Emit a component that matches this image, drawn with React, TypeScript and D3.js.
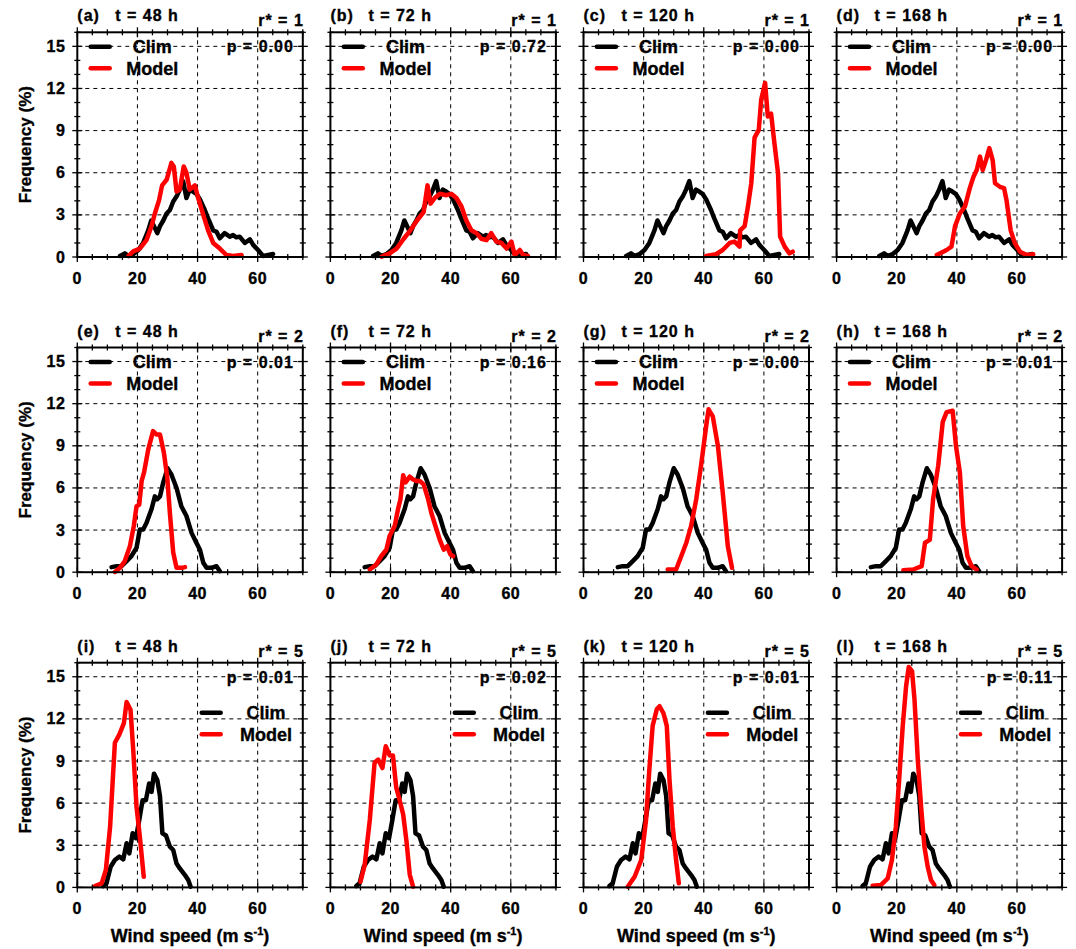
import React from "react";
import { line, range, scaleLinear } from "d3";

type Pt = [number, number];

// climatology, one per r* row
const climR1: Pt[] = [
  [14.2, 0.07], [15.8, 0.26], [17, 0.07], [18.6, 0.2], [20.3, 0.5], [21.9, 1.0],
  [23.6, 1.9], [24.6, 2.6], [25.5, 2.2], [26.6, 1.7], [27.5, 2.2], [28.6, 2.6],
  [29.7, 3.1], [30.8, 3.35], [31.9, 3.95], [33, 4.3], [34.1, 4.8], [35.2, 5.4],
  [36.3, 4.2], [37.4, 4.8], [38.5, 4.66], [39.6, 4.5], [40.8, 4.1], [42.4, 3.35],
  [43.5, 2.75], [45.2, 1.9], [46.3, 1.8], [47.4, 1.33], [49, 1.7], [50.7, 1.45],
  [51.8, 1.57], [52.9, 1.4], [54, 1.45], [55.7, 1.0], [57.4, 1.26], [58.5, 0.86],
  [60.1, 0.5], [61.8, 0.07], [63.5, 0.14], [65.1, 0.21],
];

const climR2: Pt[] = [
  [11.4, 0.36], [13.1, 0.43], [14.7, 0.43], [16.4, 0.79], [18, 1.14], [19.7, 1.74],
  [20.8, 3.04], [21.9, 3.04], [23, 3.5], [24.7, 4.5], [25.8, 5.4], [26.6, 5.2],
  [27.5, 5.4], [28.6, 6.4], [30, 7.4], [31.3, 6.96], [33, 6.0], [34.6, 4.7],
  [36.3, 4.0], [38, 2.8], [39.6, 2.1], [40.8, 1.6], [41.9, 0.67], [43, 0.31],
  [44.6, 0.31], [46.3, 0.43], [47.4, 0.07],
];

const climR5: Pt[] = [
  [8.6, 0.1], [9.7, 0.29], [11.1, 1.47], [12.5, 1.95], [14, 2.19], [15.3, 2.0],
  [16.4, 3.14], [17.3, 2.42], [18.4, 3.85], [19.5, 3.5], [20.6, 4.8], [21.7, 6.2],
  [22.8, 6.2], [23.9, 7.4], [24.7, 6.8], [25.5, 8.1], [26.6, 7.65], [27.5, 6.5],
  [28.3, 3.85], [29.5, 3.7], [30.8, 2.9], [31.9, 2.66], [33, 1.7], [34.1, 1.35],
  [35.8, 0.88], [36.9, 0.52], [37.7, 0.05],
];

// model, one per panel
const modelA: Pt[] = [
  [17, 0.07], [18.6, 0.4], [20.8, 0.6], [23, 1.2], [24.7, 2.2], [25.8, 3.1],
  [27.2, 4.05], [28.2, 5.1], [29.7, 5.5], [31.3, 6.7], [32.1, 6.45], [33, 4.66],
  [34.1, 4.8], [35.4, 6.45], [36.3, 6], [37.4, 4.8], [39.1, 5.1], [40.2, 4.2],
  [41.9, 3.0], [43.5, 1.9], [45.2, 1.0], [47.4, 0.6], [49.6, 0.14], [51.8, 0.07],
  [54.6, 0.14],
];
const modelB: Pt[] = [
  [17, 0.02], [19.7, 0.26], [22, 0.6], [24.4, 1.3], [26.6, 1.9], [28.8, 2.6],
  [31, 3.2], [32.3, 5.1], [33.3, 3.8], [34.7, 4.2], [36.4, 4.5], [38.6, 4.4],
  [40.2, 4.5], [41.9, 4.2], [43.6, 3.6], [45.2, 2.6], [46.9, 1.9], [48.6, 1.7],
  [50.2, 1.3], [51.9, 1.2], [53.5, 1.7], [55.2, 1.1], [56.9, 1.0], [58.6, 0.6],
  [60.2, 1.1], [61.3, 0.14], [63, 0.5], [64.1, 0.14], [65.7, 0.07],
];
const modelC: Pt[] = [
  [40.8, 0.07], [44.1, 0.2], [46.3, 0.5], [48.6, 1.0], [50.2, 1.1], [51.9, 0.74],
  [52.1, 1.9], [53.6, 2.2], [54.7, 3.6], [55.8, 5.25], [56.9, 8.5], [58.3, 9.05],
  [59.1, 11.2], [60.4, 12.4], [61.3, 10.0], [62.4, 10.2], [63.5, 8.1], [64.7, 5.97],
  [65.4, 1.45], [66.9, 0.74], [68.5, 0.26], [69.6, 0.38],
];
const modelD: Pt[] = [
  [33.3, 0.14], [36.6, 0.5], [38.2, 0.74], [39.4, 2.2], [41, 3.1], [42.7, 3.6],
  [44.3, 4.9], [45.5, 5.7], [46.6, 6.2], [47.7, 7.15], [48.6, 6.2], [49.7, 6.9],
  [50.8, 7.75], [51.9, 6.9], [52.7, 5.25], [54.3, 5.0], [55.7, 4.9], [56.5, 4.06],
  [57.9, 1.9], [59.3, 0.97], [61, 0.38], [63.2, 0.14], [65.4, 0.2],
];
const modelE: Pt[] = [
  [12.5, 0.02], [14.2, 0.31], [15.8, 0.79], [17.5, 1.85], [18.8, 3.3], [19.7, 4.7],
  [20.6, 4.8], [21.4, 6.5], [22.2, 7.1], [23.6, 8.75], [25.2, 10.05], [26.4, 9.8],
  [27.5, 9.8], [28.8, 8.5], [29.9, 6.8], [30.8, 4.2], [31.9, 1.4], [33, 0.31],
  [34.7, 0.31], [35.8, 0.36],
];
const modelF: Pt[] = [
  [13.1, 0.19], [15.3, 0.55], [16.9, 1.14], [18.6, 1.6], [19.7, 2.57], [21.4, 3.3],
  [22.5, 4.5], [23.3, 5.2], [24.2, 6.9], [25, 6.4], [26.4, 6.8], [27.5, 6.6],
  [28.6, 6.5], [29.7, 6.5], [31, 6.25], [32.5, 5.2], [33.6, 4.2], [35.3, 3.04],
  [36.4, 2.3], [37.7, 1.6], [38.8, 1.85], [39.9, 1.26], [40.8, 1.14],
];
const modelG: Pt[] = [
  [28, 0.19], [30.8, 0.19], [32.5, 1.14], [34.2, 2.1], [35.8, 3.3], [37.5, 5.2],
  [39.1, 7.6], [40.8, 10.4], [41.6, 11.6], [43, 11.1], [44.7, 9.0], [46.3, 5.7],
  [48, 1.85], [49.4, 0.31],
];
const modelH: Pt[] = [
  [22.2, 0.14], [25.5, 0.19], [28.3, 0.43], [29.4, 2.1], [31, 2.3], [32.1, 5.2],
  [33.8, 7.6], [35.3, 10.7], [36.6, 11.4], [38.6, 11.5], [39.7, 9.0], [41, 7.1],
  [42.1, 3.3], [43.5, 1.14], [44.9, 0.43], [46.6, 0.19],
];
const modelI: Pt[] = [
  [5.9, 0.1], [8.1, 0.29], [9.5, 1.24], [10.9, 4.3], [12.5, 10.3], [14, 10.9],
  [15.5, 11.7], [16.4, 13.2], [17.7, 12.65], [18.6, 9.8], [19.7, 5.75], [20.8, 3.6],
  [22.1, 0.76],
];
const modelJ: Pt[] = [
  [10, 0.4], [11.4, 1.6], [13.1, 4.8], [14.7, 8.9], [15.9, 9.1], [17.3, 8.5],
  [18.4, 10.05], [19.7, 9.4], [20.8, 9.4], [21.9, 7.1], [23.1, 6.15], [24.2, 5.2],
  [25.3, 3.3], [26.4, 0.9], [27.5, 0.05],
];
const modelK: Pt[] = [
  [14.7, 0.05], [17, 0.76], [19.2, 1.95], [20.8, 4.8], [21.9, 8.4], [23, 11.5],
  [24.4, 12.7], [25.3, 12.9], [26.6, 12.4], [27.7, 11.5], [28.6, 7.65], [29.7, 4.3],
  [30.8, 1.95], [31.7, 0.29],
];
const modelL: Pt[] = [
  [12, 0.12], [14.7, 0.17], [17, 0.64], [18.4, 1.95], [19.7, 4.3], [20.8, 7.65],
  [22, 11.5], [23.1, 14.3], [24, 15.7], [25.1, 15.4], [25.9, 13.4], [27, 9.1],
  [28.1, 5.75], [29.2, 2.9], [30.3, 1.47], [31.4, 0.52], [32.5, 0.17],
];

const climByRow = [climR1, climR2, climR5];
const modelByRow = [
  [modelA, modelB, modelC, modelD],
  [modelE, modelF, modelG, modelH],
  [modelI, modelJ, modelK, modelL],
];
const panelLetters = [
  ["a", "b", "c", "d"],
  ["e", "f", "g", "h"],
  ["i", "j", "k", "l"],
];
const leadTimes = [48, 72, 120, 168];
const rStars = [1, 2, 5];
const pValues = [
  ["0.00", "0.72", "0.00", "0.00"],
  ["0.01", "0.16", "0.00", "0.01"],
  ["0.01", "0.02", "0.01", "0.11"],
];
const xTicks = [0, 20, 40, 60];
const yTicks = [0, 3, 6, 9, 12, 15];

const W = 225.5;
const H = 224.7;
const LEFT0 = 77.3;
const COL_STEP = 253.1;
const TOP0 = 32.3;
const ROW_STEP = 315.2;
const FONT = "'Liberation Sans', Arial, Helvetica, sans-serif";

function Panel({ row, col }: { row: number; col: number }) {
  const L = LEFT0 + col * COL_STEP;
  const T = TOP0 + row * ROW_STEP;
  const x = scaleLinear().domain([0, 75]).range([L, L + W]);
  const y = scaleLinear().domain([0, 16]).range([T + H, T]);
  const path = line<Pt>()
    .x((d) => x(d[0]))
    .y((d) => y(d[1]));

  const xMinor = range(0, 76, 5);
  const yMinor = range(0, 17, 1);
  const legendLow = row === 2;
  const legX1 = legendLow ? L + 124.4 : L + 13.4;
  const legY = legendLow ? T + 50 : T + 14.4;
  const legText = legendLow ? L + 188.7 : L + 75;

  return (
    <g>
      {/* grid */}
      <g stroke="#000" strokeWidth={1} strokeDasharray="4,4">
        {xTicks.filter((t) => t > 0).map((t) => (
          <line key={"gx" + t} x1={x(t)} x2={x(t)} y1={T} y2={T + H} />
        ))}
        {yTicks.filter((t) => t > 0).map((t) => (
          <line key={"gy" + t} x1={L} x2={L + W} y1={y(t)} y2={y(t)} />
        ))}
      </g>

      {/* ticks on all sides */}
      <g stroke="#000" strokeWidth={1.3}>
        {xMinor.map((t) => {
          const len = t % 20 === 0 ? 5 : 3;
          return (
            <g key={"tx" + t}>
              <line x1={x(t)} x2={x(t)} y1={T + H - len} y2={T + H + len} />
              <line x1={x(t)} x2={x(t)} y1={T - len} y2={T + len} />
            </g>
          );
        })}
        {yMinor.map((t) => {
          const len = t % 3 === 0 ? 5 : 3;
          return (
            <g key={"ty" + t}>
              <line x1={L - len} x2={L + len} y1={y(t)} y2={y(t)} />
              <line x1={L + W - len} x2={L + W + len} y1={y(t)} y2={y(t)} />
            </g>
          );
        })}
      </g>

      {/* curves */}
      <path d={path(climByRow[row]) ?? ""} fill="none" stroke="#000" strokeWidth={4.5}
        strokeLinejoin="round" strokeLinecap="round" />
      <path d={path(modelByRow[row][col]) ?? ""} fill="none" stroke="#ff0000" strokeWidth={4.5}
        strokeLinejoin="round" strokeLinecap="round" />

      <rect x={L} y={T} width={W} height={H} fill="none" stroke="#000" strokeWidth={2} />

      {/* texts */}
      <g fontFamily={FONT} fontWeight="bold" fill="#000" stroke="#000" strokeWidth={0.35}>
        <text x={L} y={T - 11} fontSize={16} letterSpacing={1}>({panelLetters[row][col]})</text>
        <text x={L + 38} y={T - 11} fontSize={16} letterSpacing={1}>t = {leadTimes[col]} h</text>
        <text x={L + W + 1} y={T - 6} fontSize={16} letterSpacing={1} textAnchor="end">
          r* = {rStars[row]}
        </text>
        <text x={L + W - 9} y={T + 20} fontSize={16} letterSpacing={1} textAnchor="end">
          p = {pValues[row][col]}
        </text>

        {xTicks.map((t) => (
          <text key={"xl" + t} x={x(t)} y={T + H + 27} fontSize={16} textAnchor="middle" letterSpacing={0.5}>
            {t}
          </text>
        ))}
        {col === 0 &&
          yTicks.map((t) => (
            <text key={"yl" + t} x={L - 12} y={y(t) + 5.5} fontSize={16} textAnchor="end" letterSpacing={0.5}>
              {t}
            </text>
          ))}
        {col === 0 && (
          <text transform={`translate(30.5, ${T + H / 2}) rotate(-90)`} fontSize={17} textAnchor="middle">
            Frequency (%)
          </text>
        )}
        {row === 2 && (
          <text x={L + W / 2} y={T + H + 54.5} fontSize={18} textAnchor="middle">
            Wind speed (m s<tspan dy={-7} fontSize={11}>-1</tspan>
            <tspan dy={7}>)</tspan>
          </text>
        )}

        {/* legend */}
        <line x1={legX1} x2={legX1 + 19} y1={legY} y2={legY} stroke="#000" strokeWidth={4.5} strokeLinecap="round" />
        <line x1={legX1} x2={legX1 + 19} y1={legY + 21.6} y2={legY + 21.6} stroke="#ff0000" strokeWidth={4.5} strokeLinecap="round" />
        <text x={legText} y={legY + 6.3} fontSize={18} textAnchor="middle">Clim</text>
        <text x={legText} y={legY + 21.6 + 6.3} fontSize={18} textAnchor="middle">Model</text>
      </g>
    </g>
  );
}

export default function App() {
  return (
    <svg
      width={1076}
      height={949}
      style={{ position: "absolute", left: 0, top: 0, background: "#fff" }}
    >
      <rect width={1076} height={949} fill="#fff" />
      {[0, 1, 2].map((r) =>
        [0, 1, 2, 3].map((c) => <Panel key={`${r}-${c}`} row={r} col={c} />)
      )}
    </svg>
  );
}
